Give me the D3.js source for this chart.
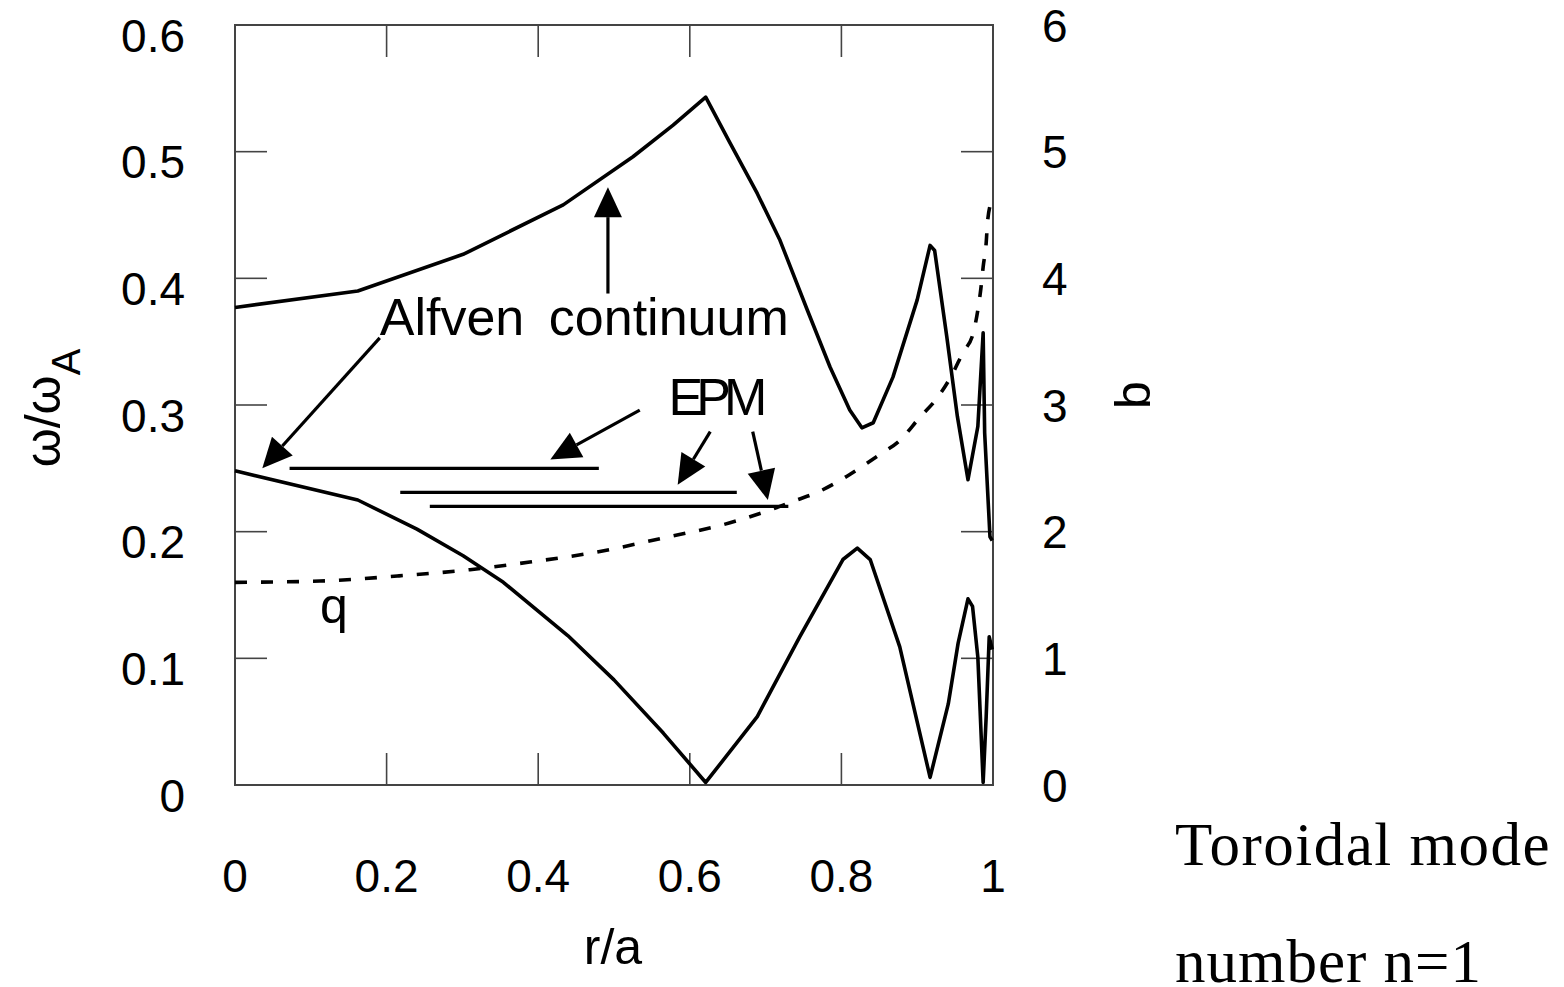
<!DOCTYPE html>
<html>
<head>
<meta charset="utf-8">
<script src="https://cdn.jsdelivr.net/npm/d3@7"></script>
<style>
  body { margin: 0; background: #fff; }
  svg { display: block; }
  text { font-family: "Liberation Sans", Arial, sans-serif; fill: #000; }
  text.serif { font-family: "Liberation Serif", "Times New Roman", serif; }
</style>
</head>
<body>
<svg id="chart" width="1564" height="987"></svg>
<script>
// Alfven continuum, upper branch: [r/a, omega/omegaA]
const upperBranch = [
  [0, 0.377], [0.162, 0.390], [0.301, 0.419], [0.433, 0.458], [0.525, 0.496],
  [0.578, 0.521], [0.621, 0.543], [0.653, 0.507], [0.689, 0.467], [0.719, 0.430],
  [0.755, 0.375], [0.785, 0.330], [0.811, 0.296], [0.827, 0.282], [0.842, 0.286],
  [0.868, 0.322], [0.900, 0.383], [0.917, 0.426], [0.923, 0.422], [0.939, 0.354],
  [0.953, 0.291], [0.967, 0.241], [0.980, 0.283], [0.987, 0.357], [0.989, 0.278],
  [0.996, 0.196], [0.999, 0.193]
];

// lower branch
const lowerBranch = [
  [0, 0.248], [0.162, 0.225], [0.240, 0.202], [0.301, 0.181], [0.354, 0.160],
  [0.439, 0.118], [0.500, 0.083], [0.565, 0.041], [0.621, 0.002], [0.689, 0.054],
  [0.745, 0.117], [0.802, 0.178], [0.821, 0.187], [0.838, 0.178], [0.877, 0.109],
  [0.917, 0.006], [0.941, 0.064], [0.954, 0.112], [0.967, 0.147], [0.973, 0.141],
  [0.980, 0.101], [0.987, 0.002], [0.991, 0.054], [0.995, 0.117], [0.999, 0.107]
];

// safety factor q, read on the right axis
const qProfile = [
  [0, 1.60], [0.112, 1.61], [0.214, 1.65], [0.310, 1.70], [0.389, 1.76],
  [0.478, 1.84], [0.565, 1.95], [0.653, 2.07], [0.710, 2.18], [0.741, 2.25],
  [0.768, 2.31], [0.794, 2.39], [0.821, 2.49], [0.851, 2.61], [0.877, 2.72],
  [0.903, 2.90], [0.927, 3.06], [0.946, 3.24], [0.960, 3.41], [0.974, 3.57],
  [0.980, 3.75], [0.984, 3.92], [0.987, 4.09], [0.991, 4.28], [0.993, 4.46],
  [0.999, 4.62]
];

// EPM frequencies: [r start, r end, omega]
const epmLines = [
  [0.072, 0.480, 0.250],
  [0.218, 0.662, 0.231],
  [0.257, 0.730, 0.220]
];

// annotation arrows: [r tail, w tail, r tip, w tip]
const arrows = [
  [0.191, 0.353, 0.036, 0.250],
  [0.492, 0.388, 0.492, 0.472],
  [0.534, 0.296, 0.416, 0.257],
  [0.627, 0.279, 0.584, 0.237],
  [0.683, 0.279, 0.703, 0.225]
];

const xTicks = [0, 0.2, 0.4, 0.6, 0.8, 1];
const yTicks = [0, 0.1, 0.2, 0.3, 0.4, 0.5, 0.6];
const bTicks = [0, 1, 2, 3, 4, 5, 6];

const svg = d3.select("#chart");
const plotLeft = 235, plotRight = 993, plotTop = 25, plotBottom = 785;

const x = d3.scaleLinear().domain([0, 1]).range([plotLeft, plotRight]);
const y = d3.scaleLinear().domain([0, 0.6]).range([plotBottom, plotTop]);
const yb = d3.scaleLinear().domain([0, 6]).range([plotBottom, plotTop]);

const tickLen = 32;
const axisColor = "#444";

// frame
svg.append("rect")
  .attr("x", plotLeft).attr("y", plotTop)
  .attr("width", plotRight - plotLeft).attr("height", plotBottom - plotTop)
  .attr("fill", "none").attr("stroke", axisColor).attr("stroke-width", 2);

// inward ticks, all four sides
const ticks = svg.append("g").attr("stroke", axisColor).attr("stroke-width", 1.6);
xTicks.forEach(t => {
  ticks.append("line").attr("x1", x(t)).attr("x2", x(t)).attr("y1", plotBottom).attr("y2", plotBottom - tickLen);
  ticks.append("line").attr("x1", x(t)).attr("x2", x(t)).attr("y1", plotTop).attr("y2", plotTop + tickLen);
});
yTicks.forEach(t => {
  ticks.append("line").attr("x1", plotLeft).attr("x2", plotLeft + tickLen).attr("y1", y(t)).attr("y2", y(t));
});
bTicks.forEach(t => {
  ticks.append("line").attr("x1", plotRight).attr("x2", plotRight - tickLen).attr("y1", yb(t)).attr("y2", yb(t));
});

// tick labels
const labelSize = 46;
svg.append("g").selectAll("text").data(xTicks).join("text")
  .attr("x", d => x(d)).attr("y", 892)
  .attr("text-anchor", "middle").attr("font-size", labelSize)
  .text(d => d3.format("~g")(d));

svg.append("g").selectAll("text").data(yTicks).join("text")
  .attr("x", 185).attr("y", d => y(d) + 10).attr("dy", "0.36em")
  .attr("text-anchor", "end").attr("font-size", labelSize)
  .text(d => d3.format("~g")(d));

svg.append("g").selectAll("text").data(bTicks).join("text")
  .attr("x", 1042).attr("y", d => yb(d)).attr("dy", "0.36em")
  .attr("text-anchor", "start").attr("font-size", labelSize)
  .text(d => d);

// axis titles
svg.append("text")
  .attr("x", 613).attr("y", 964)
  .attr("text-anchor", "middle").attr("font-size", 50)
  .text("r/a");

const yTitle = svg.append("text")
  .attr("transform", "translate(60,408) rotate(-90)")
  .attr("text-anchor", "middle").attr("font-size", 50);
yTitle.append("tspan").text("ω/ω");
yTitle.append("tspan").attr("font-size", 40).attr("dy", 20).text("A");

svg.append("text")
  .attr("transform", "translate(1150,395) rotate(-90)")
  .attr("text-anchor", "middle").attr("font-size", 50)
  .text("b");

// curves
const line = d3.line().x(d => x(d[0])).y(d => y(d[1]));
const qLine = d3.line().x(d => x(d[0])).y(d => yb(d[1])).curve(d3.curveMonotoneX);

[upperBranch, lowerBranch].forEach(data => {
  svg.append("path")
    .attr("d", line(data))
    .attr("fill", "none").attr("stroke", "#000")
    .attr("stroke-width", 3.6).attr("stroke-linejoin", "round");
});

svg.append("path")
  .attr("d", qLine(qProfile))
  .attr("fill", "none").attr("stroke", "#000")
  .attr("stroke-width", 3.6).attr("stroke-dasharray", "12,14");

svg.append("g").selectAll("line").data(epmLines).join("line")
  .attr("x1", d => x(d[0])).attr("x2", d => x(d[1]))
  .attr("y1", d => y(d[2])).attr("y2", d => y(d[2]))
  .attr("stroke", "#000").attr("stroke-width", 3.2);

// arrows with filled triangular heads
const headLen = 30, headHalf = 14;
arrows.forEach(a => {
  const x0 = x(a[0]), y0 = y(a[1]), x1 = x(a[2]), y1 = y(a[3]);
  const ang = Math.atan2(y1 - y0, x1 - x0);
  const bx = x1 - headLen * Math.cos(ang), by = y1 - headLen * Math.sin(ang);
  svg.append("line")
    .attr("x1", x0).attr("y1", y0).attr("x2", bx).attr("y2", by)
    .attr("stroke", "#000").attr("stroke-width", 3.2);
  const px = -Math.sin(ang) * headHalf, py = Math.cos(ang) * headHalf;
  svg.append("path")
    .attr("d", `M${x1},${y1}L${bx + px},${by + py}L${bx - px},${by - py}Z`)
    .attr("fill", "#000");
});

// annotations
const noteSize = 52;
svg.append("text").attr("x", x(0.191)).attr("y", y(0.355))
  .attr("font-size", noteSize).text("Alfven");
svg.append("text").attr("x", x(0.414)).attr("y", y(0.355))
  .attr("font-size", noteSize).text("continuum");
svg.append("text").attr("x", x(0.572)).attr("y", y(0.292))
  .attr("font-size", noteSize).attr("letter-spacing", -7).text("EPM");
svg.append("text").attr("x", x(0.112)).attr("y", y(0.128))
  .attr("font-size", 50).text("q");

// side note
svg.append("text").attr("class", "serif").attr("x", 1175).attr("y", 865)
  .attr("font-size", 61).attr("letter-spacing", 1.5).text("Toroidal mode");
svg.append("text").attr("class", "serif").attr("x", 1175).attr("y", 982)
  .attr("font-size", 61).attr("letter-spacing", 1).text("number n=1");
</script>
</body>
</html>
